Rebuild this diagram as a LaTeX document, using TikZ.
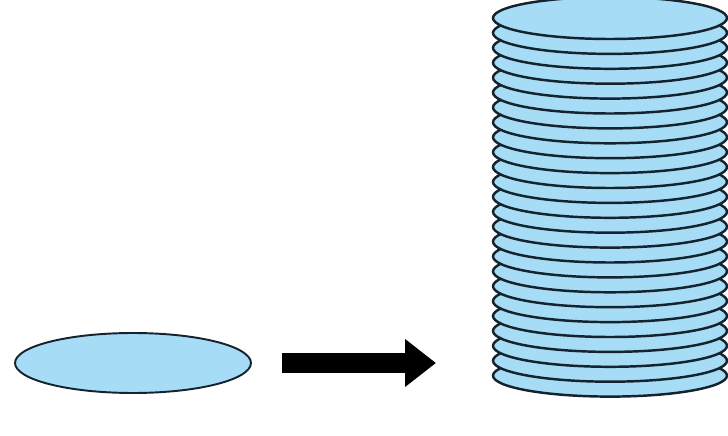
\documentclass[tikz,border=0pt]{standalone}
\usepackage{tikz}
\usetikzlibrary{arrows.meta}
\definecolor{discblue}{RGB}{166,220,245}
\definecolor{discedge}{RGB}{20,35,45}

\begin{document}
\begin{tikzpicture}[x=0.02cm,y=-0.02cm,
    disc/.style={fill=discblue,draw=discedge,line width=1.1pt},
    bigarrow/.style={line width=0.42cm,-{Triangle[length=0.62cm,width=0.92cm]}}]
  \useasboundingbox (0,0) rectangle (728,436);
  % the single disc
  \filldraw[disc] (133,363) ellipse [x radius=2.36cm, y radius=0.6cm];
  % the arrow
  \coordinate (arrowstart) at (282,363);
  \coordinate (arrowend) at (436,363);
  \draw[bigarrow] (arrowstart) -- (arrowend);
  % the stack, bottom disc first
  \foreach \k in {24,...,0}
    \filldraw[disc,line width=1.4pt] (610,{18+14.9*\k}) ellipse [x radius=2.34cm, y radius=0.42cm];
\end{tikzpicture}
\end{document}
